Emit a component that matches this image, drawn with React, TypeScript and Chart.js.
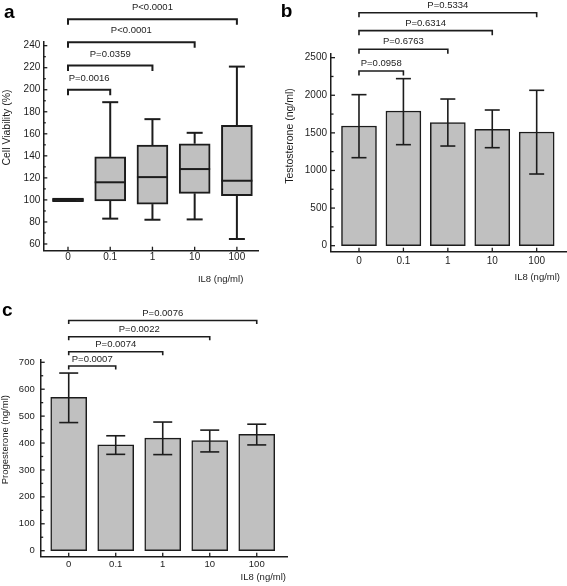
import React, { useEffect, useRef } from "react";
import { Chart, registerables } from "chart.js";

Chart.register(...registerables);

const INK = "#1c1c1c";
const FILL = "#c0c0c0";
const FONT = "'Liberation Sans', Arial, Helvetica, sans-serif";

// ---- shared categories ----
const doses = ["0", "0.1", "1", "10", "100"];
const xTitleText = "IL8 (ng/ml)";

// ---- panel a: cell viability box plot ----
const viabilityMin = [100, 83, 82, 82.3, 64.5];
const viabilityQ1 = [98.3, 99, 96.2, 106, 103.8];
const viabilityMedian = [100, 116, 120.7, 128, 117.4];
const viabilityQ3 = [101.7, 139, 149.7, 151, 167.8];
const viabilityMax = [100, 188.7, 173.3, 160.9, 221];
const viabilityTicks = [60, 80, 100, 120, 140, 160, 180, 200, 220, 240];
const viabilityCompare = [1, 2, 3, 4];
const viabilityBracketY = [200, 222, 243, 264];
const viabilityP = ["P=0.0016", "P=0.0359", "P<0.0001", "P<0.0001"];

// ---- panel b: testosterone ----
const testosteroneMean = [1591, 1791, 1636, 1547, 1511];
const testosteroneLow = [1170, 1343, 1325, 1303, 953];
const testosteroneHigh = [2008, 2221, 1950, 1804, 2066];
const testosteroneTicks = [0, 500, 1000, 1500, 2000, 2500];
const testosteroneCompare = [1, 2, 3, 4];
const testosteroneBracketY = [2323, 2611, 2859, 3098];
const testosteroneP = ["P=0.0958", "P=0.6763", "P=0.6314", "P=0.5334"];

// ---- panel c: progesterone ----
const progesteroneMean = [570, 393, 418, 409, 432];
const progesteroneLow = [476, 358, 357, 367, 393];
const progesteroneHigh = [660, 427, 478, 448, 470];
const progesteroneTicks = [0, 100, 200, 300, 400, 500, 600, 700];
const progesteroneCompare = [1, 2, 3, 4];
const progesteroneBracketY = [686, 739, 795, 855];
const progesteroneP = ["P=0.0007", "P=0.0074", "P=0.0022", "P=0.0076"];

type Spec = {
  letter: string;
  letterX: number;
  letterY: number;
  yTitle: string;
  yTitleX: number;
  yTitleY: number;
  yTitleSize: number;
  xTitleInset: number;
  xTitleDy: number;
  tickSize: number;
  pSize: number;
  xPad: number;
  yPad: number;
  padTop: number;
  padRight: number;
  yWidth: number;
  xHeight: number;
  xMin: number;
  xMax: number;
  yMin: number;
  yMax: number;
  yTicks: number[];
  barLow: number[] | null;
  barHigh: number[];
  barPx: number;
  barBorder: number;
  lineW: number;
  errLow?: number[];
  errHigh?: number[];
  median?: number[];
  capPx: number;
  compare: number[];
  bracketY: number[];
  pLabels: string[];
  legPx: number;
  textGap: number;
};

function buildPlugin(s: Spec) {
  return {
    id: "panelDecor",
    afterDraw(chart: any) {
      const ctx: CanvasRenderingContext2D = chart.ctx;
      const xs = chart.scales.x;
      const ys = chart.scales.y;
      const a = chart.chartArea;
      ctx.save();
      ctx.strokeStyle = INK;
      ctx.fillStyle = INK;
      ctx.lineCap = "butt";
      ctx.lineWidth = s.lineW;

      const line = (x1: number, y1: number, x2: number, y2: number) => {
        ctx.beginPath();
        ctx.moveTo(x1, y1);
        ctx.lineTo(x2, y2);
        ctx.stroke();
      };

      // error bars / whiskers
      if (s.errLow && s.errHigh) {
        for (let i = 0; i < doses.length; i++) {
          const x = xs.getPixelForValue(i);
          const yl = ys.getPixelForValue(s.errLow[i]);
          const yh = ys.getPixelForValue(s.errHigh[i]);
          if (s.barLow) {
            const q1 = ys.getPixelForValue(s.barLow[i]);
            const q3 = ys.getPixelForValue(s.barHigh[i]);
            line(x, q3, x, yh);
            line(x, q1, x, yl);
          } else {
            line(x, yl, x, yh);
          }
          line(x - s.capPx / 2, yl, x + s.capPx / 2, yl);
          line(x - s.capPx / 2, yh, x + s.capPx / 2, yh);
        }
      }
      if (s.median) {
        for (let i = 0; i < doses.length; i++) {
          const x = xs.getPixelForValue(i);
          const y = ys.getPixelForValue(s.median[i]);
          line(x - s.barPx / 2, y, x + s.barPx / 2, y);
        }
      }

      // inward tick marks
      ctx.lineWidth = 1.3;
      const yt = ys.ticks.map((t: any) => t.value);
      yt.forEach((v: number, k: number) => {
        const y = ys.getPixelForValue(v);
        line(a.left, y, a.left + 4, y);
        if (k < yt.length - 1) {
          const ym = ys.getPixelForValue((v + yt[k + 1]) / 2);
          line(a.left, ym, a.left + 2.5, ym);
        }
      });
      xs.ticks.forEach((t: any) => {
        const x = xs.getPixelForValue(t.value);
        line(x, a.bottom, x, a.bottom - 4);
      });

      // significance brackets
      ctx.lineWidth = s.lineW;
      ctx.font = `${s.pSize}px ${FONT}`;
      ctx.textAlign = "center";
      ctx.textBaseline = "middle";
      s.compare.forEach((target, k) => {
        const x0 = xs.getPixelForValue(0);
        const x1 = xs.getPixelForValue(target);
        const y = ys.getPixelForValue(s.bracketY[k]);
        ctx.beginPath();
        ctx.moveTo(x0, y + s.legPx);
        ctx.lineTo(x0, y);
        ctx.lineTo(x1, y);
        ctx.lineTo(x1, y + s.legPx);
        ctx.stroke();
        ctx.fillText(s.pLabels[k], (x0 + x1) / 2, y - s.textGap);
      });

      // x title
      ctx.textAlign = "right";
      ctx.fillText(xTitleText, a.right - s.xTitleInset, a.bottom + s.xTitleDy);

      // y title
      ctx.save();
      ctx.translate(s.yTitleX, s.yTitleY);
      ctx.rotate(-Math.PI / 2);
      ctx.textAlign = "center";
      ctx.font = `${s.yTitleSize}px ${FONT}`;
      ctx.fillText(s.yTitle, 0, 0);
      ctx.restore();

      // panel letter
      ctx.textAlign = "left";
      ctx.textBaseline = "alphabetic";
      ctx.font = `bold 19px ${FONT}`;
      ctx.fillStyle = "#000";
      ctx.fillText(s.letter, s.letterX, s.letterY);
      ctx.restore();
    },
  };
}

function makeChart(canvas: HTMLCanvasElement, s: Spec) {
  const data = doses.map((_, i) =>
    s.barLow ? { x: i, y: [s.barLow[i], s.barHigh[i]] } : { x: i, y: s.barHigh[i] }
  );
  return new Chart(canvas, {
    type: "bar",
    data: {
      datasets: [
        {
          data: data as any,
          backgroundColor: FILL,
          borderColor: INK,
          borderWidth: s.barBorder,
          borderSkipped: false,
          barThickness: s.barPx,
        },
      ],
    },
    options: {
      animation: false,
      responsive: false,
      maintainAspectRatio: false,
      layout: { padding: { left: 0, top: s.padTop, right: s.padRight, bottom: 0 } },
      plugins: { legend: { display: false }, tooltip: { enabled: false } },
      scales: {
        x: {
          type: "linear",
          offset: false,
          min: s.xMin,
          max: s.xMax,
          bounds: "data",
          grid: { display: false, drawTicks: false, offset: false },
          border: { display: true, color: INK, width: 1.5 },
          afterBuildTicks: (sc: any) => {
            sc.ticks = doses.map((_, i) => ({ value: i }));
          },
          afterFit: (sc: any) => {
            sc.height = s.xHeight;
          },
          ticks: {
            autoSkip: false,
            maxRotation: 0,
            padding: s.xPad,
            color: INK,
            font: { family: FONT, size: s.tickSize },
            callback: (_v: any, i: number) => doses[i],
          },
        },
        y: {
          type: "linear",
          min: s.yMin,
          max: s.yMax,
          bounds: "data",
          grid: { display: false, drawTicks: false },
          border: { display: true, color: INK, width: 1.5 },
          afterBuildTicks: (sc: any) => {
            sc.ticks = s.yTicks.map((v) => ({ value: v }));
          },
          afterFit: (sc: any) => {
            sc.width = s.yWidth;
          },
          ticks: {
            padding: s.yPad,
            color: INK,
            font: { family: FONT, size: s.tickSize },
            callback: (v: any) => String(v),
          },
        },
      },
    },
    plugins: [buildPlugin(s)],
  } as any);
}

const specA: Spec = {
  letter: "a", letterX: 4, letterY: 18,
  yTitle: "Cell Viability (%)", yTitleX: 7, yTitleY: 127.5, yTitleSize: 10.5,
  xTitleInset: 14.7, xTitleDy: 28.6,
  tickSize: 10, pSize: 9.5, xPad: 1, yPad: 3,
  padTop: 41.7, padRight: 27, yWidth: 43.3, xHeight: 44.3,
  xMin: -0.585, xMax: 4.5, yMin: 53.9, yMax: 243.6,
  yTicks: viabilityTicks,
  barLow: viabilityQ1, barHigh: viabilityQ3, barPx: 31, barBorder: 2, lineW: 2,
  errLow: viabilityMin, errHigh: viabilityMax, median: viabilityMedian, capPx: 16,
  compare: viabilityCompare, bracketY: viabilityBracketY, pLabels: viabilityP,
  legPx: 5.5, textGap: 11.5,
};

const specB: Spec = {
  letter: "b", letterX: 0.7, letterY: 17,
  yTitle: "Testosterone (ng/ml)", yTitleX: 9.7, yTitleY: 136, yTitleSize: 10.5,
  xTitleInset: 6, xTitleDy: 25.3,
  tickSize: 10, pSize: 9.5, xPad: 3.5, yPad: 4,
  padTop: 53.3, padRight: 1, yWidth: 51, xHeight: 43.3,
  xMin: -0.63, xMax: 4.66, yMin: -80, yMax: 2558,
  yTicks: testosteroneTicks,
  barLow: null, barHigh: testosteroneMean, barPx: 35, barBorder: 1.5, lineW: 1.6,
  errLow: testosteroneLow, errHigh: testosteroneHigh, capPx: 15,
  compare: testosteroneCompare, bracketY: testosteroneBracketY, pLabels: testosteroneP,
  legPx: 4.5, textGap: 7.5,
};

const specC: Spec = {
  letter: "c", letterX: 2, letterY: 21,
  yTitle: "Progesterone (ng/ml)", yTitleX: 5.5, yTitleY: 144.7, yTitleSize: 9.5,
  xTitleInset: 1.3, xTitleDy: 21.1,
  tickSize: 9.5, pSize: 9.5, xPad: 2.3, yPad: 6,
  padTop: 65, padRight: 2.7, yWidth: 40.7, xHeight: 29.3,
  xMin: -0.596, xMax: 4.65, yMin: -22.3, yMax: 708.5,
  yTicks: progesteroneTicks,
  barLow: null, barHigh: progesteroneMean, barPx: 36, barBorder: 1.5, lineW: 1.6,
  errLow: progesteroneLow, errHigh: progesteroneHigh, capPx: 19,
  compare: progesteroneCompare, bracketY: progesteroneBracketY, pLabels: progesteroneP,
  legPx: 3.5, textGap: 7,
};

function Panel({ spec, left, top, width, height }: { spec: Spec; left: number; top: number; width: number; height: number }) {
  const ref = useRef<HTMLCanvasElement | null>(null);
  useEffect(() => {
    if (!ref.current) return;
    const chart = makeChart(ref.current, spec);
    return () => chart.destroy();
  }, [spec]);
  return (
    <canvas
      ref={ref}
      width={width}
      height={height}
      style={{ position: "absolute", left, top, width, height }}
    />
  );
}

export default function App() {
  return (
    <div
      style={{
        position: "fixed",
        left: 0,
        top: 0,
        width: 567,
        height: 586,
        background: "#fff",
        overflow: "hidden",
      }}
    >
      <Panel spec={specA} left={0} top={0} width={285} height={295} />
      <Panel spec={specB} left={280} top={0} width={287} height={295} />
      <Panel spec={specC} left={0} top={295} width={290} height={291} />
    </div>
  );
}
